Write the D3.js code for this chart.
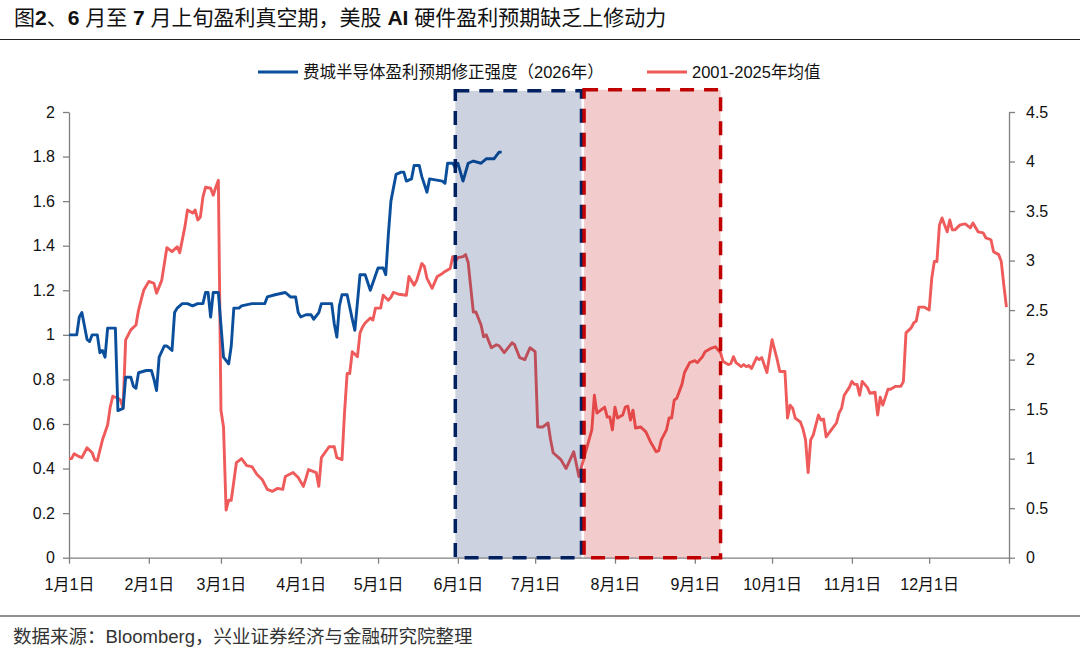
<!DOCTYPE html>
<html>
<head>
<meta charset="utf-8">
<script src="https://cdn.jsdelivr.net/npm/d3@7"></script>
<style>
  body { margin: 0; background: #fff; }
  text { font-family: "Liberation Sans", "Noto Sans CJK SC", sans-serif; }
</style>
</head>
<body>
<div id="chart"></div>
<script>
// 2026 semiconductor earnings revision strength (left axis)
var blueDates = ["1-1","1-4","1-5","1-6","1-8","1-9","1-10","1-12","1-13","1-14","1-15","1-16","1-19","1-20","1-22","1-23","1-25","1-26","1-27","1-28","1-31","2-2","2-3","2-4","2-5","2-7","2-8","2-10","2-11","2-12","2-14","2-16","2-18","2-20","2-22","2-23","2-24","2-25","2-26","2-28","3-2","3-4","3-5","3-6","3-8","3-9","3-13","3-18","3-19","3-22","3-26","3-28","3-30","3-31","4-1","4-3","4-5","4-6","4-8","4-9","4-13","4-14","4-15","4-16","4-17","4-19","4-21","4-22","4-24","4-26","4-28","5-1","5-3","5-4","5-5","5-6","5-8","5-10","5-11","5-12","5-14","5-15","5-17","5-18","5-20","5-21","5-26","5-27","5-28","5-30","5-31","6-1","6-3","6-5","6-7","6-10","6-12","6-15","6-17","6-18"];
var blueValues = [1.00,1.00,1.08,1.10,0.98,0.97,1.00,1.00,0.92,0.93,0.90,1.03,1.03,0.66,0.67,0.81,0.81,0.77,0.76,0.83,0.84,0.84,0.80,0.75,0.90,0.95,0.95,0.93,1.10,1.12,1.14,1.14,1.13,1.14,1.14,1.19,1.19,1.08,1.19,1.19,0.90,0.87,0.95,1.12,1.12,1.13,1.14,1.14,1.17,1.18,1.19,1.17,1.17,1.10,1.08,1.09,1.09,1.07,1.10,1.14,1.14,1.05,0.99,1.13,1.18,1.18,1.07,1.02,1.27,1.27,1.20,1.30,1.30,1.27,1.45,1.60,1.72,1.73,1.73,1.69,1.70,1.76,1.76,1.71,1.64,1.70,1.69,1.68,1.77,1.77,1.75,1.77,1.69,1.77,1.78,1.77,1.79,1.79,1.82,1.82];

// 2001-2025 average (right axis)
var redDates = ["1-1","1-2","1-3","1-5","1-6","1-8","1-10","1-11","1-12","1-14","1-16","1-17","1-18","1-20","1-21","1-22","1-23","1-25","1-27","1-28","1-29","1-30","2-1","2-3","2-4","2-6","2-8","2-10","2-12","2-13","2-15","2-16","2-18","2-19","2-20","2-21","2-22","2-23","2-25","2-26","2-27","2-28","3-1","3-2","3-3","3-4","3-5","3-7","3-9","3-11","3-13","3-15","3-17","3-19","3-21","3-23","3-25","3-26","3-29","3-31","4-2","4-3","4-4","4-6","4-7","4-8","4-9","4-12","4-14","4-15","4-17","4-18","4-19","4-20","4-21","4-23","4-24","4-25","4-26","4-28","4-29","4-30","5-2","5-3","5-5","5-6","5-7","5-9","5-12","5-13","5-15","5-16","5-18","5-19","5-20","5-22","5-24","5-26","5-27","5-29","5-30","5-31","6-1","6-3","6-4","6-5","6-7","6-8","6-10","6-11","6-12","6-14","6-16","6-17","6-19","6-22","6-23","6-25","6-27","6-29","7-1","7-2","7-4","7-6","7-7","7-8","7-11","7-13","7-16","7-18","7-20","7-23","7-24","7-25","7-28","7-29","7-30","7-31","8-1","8-2","8-4","8-5","8-6","8-7","8-8","8-9","8-11","8-13","8-15","8-17","8-18","8-19","8-21","8-22","8-23","8-24","8-25","8-27","8-28","8-30","9-1","9-2","9-4","9-5","9-7","9-9","9-11","9-12","9-14","9-15","9-16","9-17","9-19","9-20","9-21","9-22","9-23","9-25","9-26","9-27","9-29","10-1","10-3","10-4","10-6","10-7","10-8","10-9","10-10","10-12","10-13","10-14","10-15","10-16","10-17","10-19","10-20","10-21","10-22","10-24","10-26","10-27","10-28","10-29","10-31","11-1","11-2","11-3","11-4","11-5","11-7","11-8","11-10","11-11","11-12","11-13","11-15","11-16","11-18","11-20","11-21","11-22","11-24","11-25","11-26","11-27","11-29","12-1","12-2","12-3","12-4","12-5","12-6","12-7","12-8","12-9","12-10","12-11","12-13","12-15","12-17","12-18","12-20","12-22","12-23","12-25","12-26","12-28","12-29","12-30","12-31"];
var redValues = [1.00,1.00,1.05,1.02,1.01,1.11,1.06,0.99,0.98,1.19,1.34,1.52,1.63,1.61,1.59,1.51,2.20,2.30,2.35,2.50,2.60,2.70,2.79,2.77,2.67,2.80,3.13,3.09,3.14,3.08,3.34,3.51,3.48,3.51,3.41,3.44,3.64,3.74,3.73,3.66,3.74,3.81,1.49,1.32,0.48,0.58,0.58,0.96,1.00,0.93,0.92,0.84,0.79,0.69,0.67,0.70,0.69,0.82,0.86,0.81,0.72,0.80,0.89,0.87,0.86,0.72,1.01,1.12,1.12,1.01,0.99,1.47,1.86,1.86,2.08,2.03,2.27,2.33,2.37,2.42,2.40,2.52,2.52,2.65,2.60,2.63,2.68,2.66,2.65,2.84,2.75,2.80,2.97,2.94,2.82,2.72,2.84,2.87,2.89,2.92,3.04,2.99,3.03,3.04,3.06,2.98,2.48,2.48,2.35,2.23,2.25,2.12,2.15,2.14,2.07,2.17,2.15,2.02,2.00,2.12,2.08,1.32,1.32,1.36,1.19,1.06,0.99,0.90,1.07,0.82,1.01,1.29,1.64,1.46,1.52,1.42,1.42,1.29,1.52,1.41,1.44,1.52,1.53,1.39,1.49,1.31,1.32,1.27,1.16,1.07,1.08,1.19,1.29,1.41,1.41,1.59,1.61,1.75,1.87,1.97,1.99,1.97,2.03,2.08,2.11,2.13,2.07,1.98,1.95,1.96,2.03,1.97,1.93,1.95,1.93,1.94,1.91,2.02,2.00,2.02,1.87,2.20,2.00,1.88,1.88,1.41,1.54,1.51,1.41,1.37,1.30,1.19,0.86,1.19,1.24,1.44,1.39,1.40,1.22,1.29,1.36,1.46,1.51,1.64,1.72,1.78,1.75,1.75,1.64,1.78,1.72,1.66,1.67,1.44,1.62,1.54,1.70,1.70,1.73,1.73,1.78,2.27,2.32,2.37,2.39,2.53,2.53,2.50,2.82,2.99,2.99,3.36,3.43,3.36,3.29,3.41,3.31,3.31,3.36,3.37,3.33,3.38,3.29,3.28,3.23,3.21,3.09,3.06,2.99,2.75,2.53];

var seriesNames = ["费城半导体盈利预期修正强度（2026年）", "2001-2025年均值"];
var monthLabels = ["1月1日","2月1日","3月1日","4月1日","5月1日","6月1日","7月1日","8月1日","9月1日","10月1日","11月1日","12月1日"];
var leftTicks = [0, 0.2, 0.4, 0.6, 0.8, 1, 1.2, 1.4, 1.6, 1.8, 2];
var rightTicks = [0, 0.5, 1, 1.5, 2, 2.5, 3, 3.5, 4, 4.5];

// shaded periods: start, end, top (left-axis units)
var shadeStarts = ["5-31", "7-20"];
var shadeEnds = ["7-19", "9-11"];
var shadeTops = [2.095, 2.1];
var shadeColors = ["#002060", "#C00000"];

// title pieces: [text, bold]
var titleParts = [["图", false], ["2", true], ["、", false], ["6", true], [" 月至 ", false], ["7", true],
    [" 月上旬盈利真空期，美股 ", false], ["AI", true], [" 硬件盈利预期缺乏上修动力", false]];
var sourceText = "数据来源：Bloomberg，兴业证券经济与金融研究院整理";

var YEAR = 2026;
function parseMD(s) {
    var p = s.split("-");
    return new Date(YEAR, +p[0] - 1, +p[1]);
}

var width = 1080, height = 648;

var svg = d3.select("#chart").append("svg")
    .attr("width", width)
    .attr("height", height);

var x = d3.scaleTime()
    .domain([new Date(YEAR, 0, 1), new Date(YEAR + 1, 0, 1)])
    .range([69, 1009]);

var yLeft = d3.scaleLinear().domain([0, 2]).range([557.7, 112]);
var yRight = d3.scaleLinear().domain([0, 4.5]).range([557.7, 112]);

var blueData = blueDates.map(function(d, i) { return {date: parseMD(d), value: blueValues[i]}; });
var redData = redDates.map(function(d, i) { return {date: parseMD(d), value: redValues[i]}; });

// title + rules
var title = svg.append("text")
    .attr("x", 14).attr("y", 25)
    .attr("font-size", 21)
    .attr("fill", "#111")
    .attr("xml:space", "preserve")
    .style("white-space", "pre");
titleParts.forEach(function(p) {
    title.append("tspan")
        .attr("font-weight", p[1] ? "bold" : "normal")
        .text(p[0]);
});

svg.append("line")
    .attr("x1", 0).attr("x2", 1080)
    .attr("y1", 39.5).attr("y2", 39.5)
    .attr("stroke", "#222").attr("stroke-width", 1.2);

svg.append("line")
    .attr("x1", 0).attr("x2", 1080)
    .attr("y1", 616).attr("y2", 616)
    .attr("stroke", "#222").attr("stroke-width", 1.2);

svg.append("text")
    .attr("x", 13).attr("y", 643)
    .attr("font-size", 18.5)
    .attr("fill", "#333")
    .text(sourceText);

// axes
var axisColor = "#808080";

var xAxis = d3.axisBottom(x)
    .tickValues(d3.range(0, 13).map(function(m) { return new Date(YEAR, m, 1); }))
    .tickSize(6).tickSizeOuter(0)
    .tickFormat(function(d, i) { return i < 12 ? monthLabels[i] : ""; });

var gx = svg.append("g")
    .attr("transform", "translate(0,557.7)")
    .call(xAxis);
gx.selectAll("text").attr("font-size", 16).attr("fill", "#111").attr("dy", "1.45em");

var gl = svg.append("g")
    .attr("transform", "translate(69,0)")
    .call(d3.axisLeft(yLeft).tickValues(leftTicks).tickSize(6).tickSizeOuter(0)
        .tickFormat(function(d) { return String(+d.toFixed(1)); }));
gl.selectAll("text").attr("font-size", 16).attr("fill", "#111").attr("x", -14);

var gr = svg.append("g")
    .attr("transform", "translate(1009,0)")
    .call(d3.axisRight(yRight).tickValues(rightTicks).tickSize(6).tickSizeOuter(0)
        .tickFormat(function(d) { return String(+d.toFixed(1)); }));
gr.selectAll("text").attr("font-size", 16).attr("fill", "#111").attr("x", 17);

[gx, gl, gr].forEach(function(g) {
    g.select(".domain").attr("stroke", axisColor).attr("stroke-width", 1.3);
    g.selectAll(".tick line").attr("stroke", axisColor).attr("stroke-width", 1.3);
    g.selectAll("text").attr("font-family", "\"Liberation Sans\", \"Noto Sans CJK SC\", sans-serif");
});

// lines
var blueLine = d3.line()
    .x(function(d) { return x(d.date); })
    .y(function(d) { return yLeft(d.value); });

var redLine = d3.line()
    .x(function(d) { return x(d.date); })
    .y(function(d) { return yRight(d.value); });

svg.append("path")
    .datum(redData)
    .attr("fill", "none")
    .attr("stroke", "#EF5B5B")
    .attr("stroke-width", 2.9)
    .attr("stroke-linejoin", "round")
    .attr("d", redLine);

svg.append("path")
    .datum(blueData)
    .attr("fill", "none")
    .attr("stroke", "#0B4F9C")
    .attr("stroke-width", 2.9)
    .attr("stroke-linejoin", "round")
    .attr("d", blueLine);

// shaded boxes
shadeStarts.forEach(function(s, i) {
    var x0 = x(parseMD(s)), x1 = x(parseMD(shadeEnds[i]));
    var top = yLeft(shadeTops[i]), bottom = yLeft(0);
    svg.append("rect")
        .attr("x", x0).attr("y", top)
        .attr("width", x1 - x0).attr("height", bottom - top)
        .attr("fill", shadeColors[i])
        .attr("fill-opacity", 0.2)
        .attr("stroke", shadeColors[i])
        .attr("stroke-width", 3.5)
        .attr("stroke-dasharray", "14,10");
});

// legend
var legend = svg.append("g").attr("font-size", 16.5);
var legendX = [258, 647];
var legendColors = ["#0B4F9C", "#EF5B5B"];
seriesNames.forEach(function(name, i) {
    legend.append("line")
        .attr("x1", legendX[i]).attr("x2", legendX[i] + 40)
        .attr("y1", 72).attr("y2", 72)
        .attr("stroke", legendColors[i]).attr("stroke-width", 3);
    legend.append("text")
        .attr("x", legendX[i] + 45).attr("y", 78)
        .attr("fill", "#111")
        .text(name);
});
</script>
</body>
</html>
